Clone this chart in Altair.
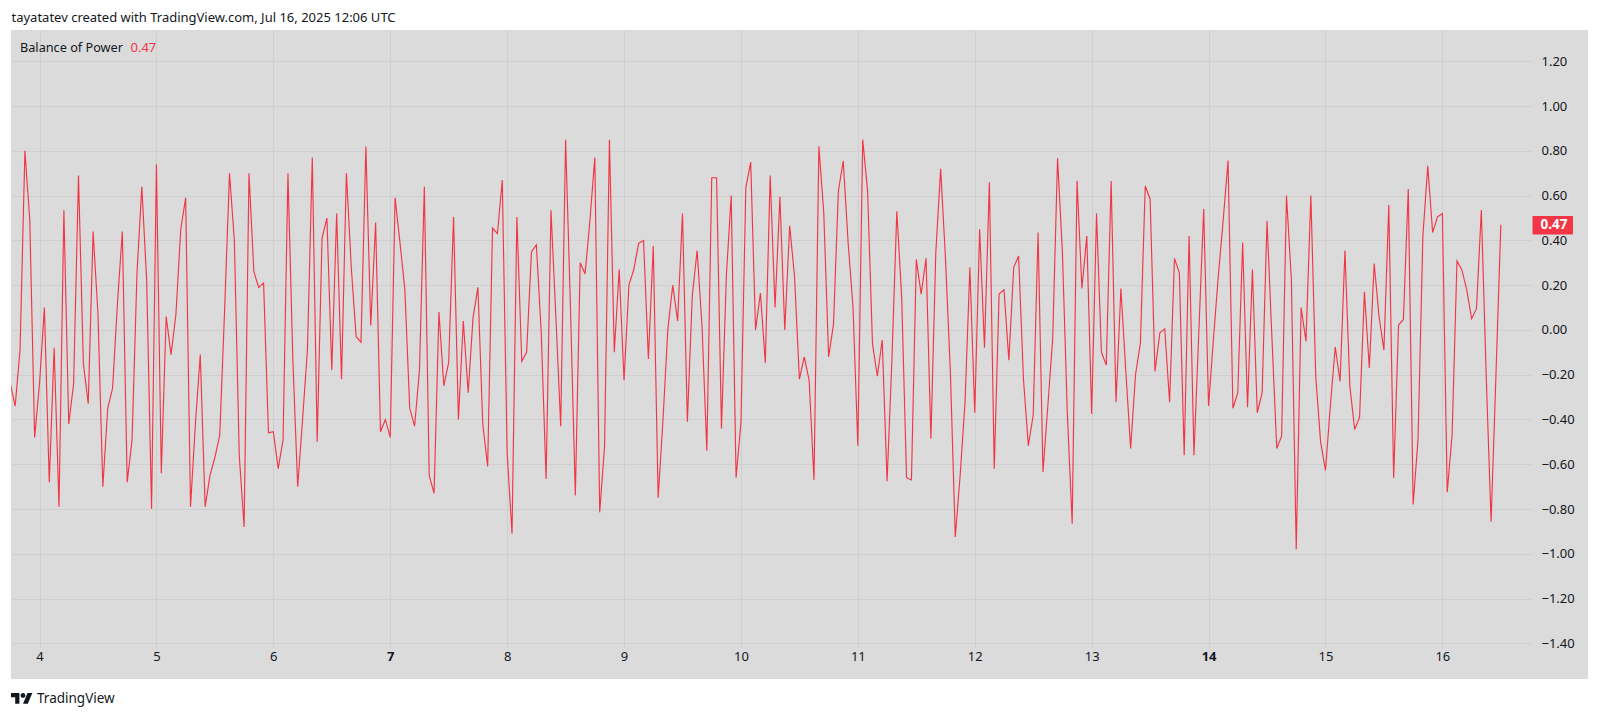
import altair as alt
import pandas as pd

FONT = "Noto Sans"
INK = "#131722"
RED = "#F23645"
PANEL = "#dbdbdb"
GRID = "#cfcfcf"

bop_a = [-0.24,-0.34,-0.09,0.80,0.49,-0.48,-0.24,0.10,-0.68,-0.08,-0.79,0.535,-0.42,-0.24,0.69,-0.15,-0.33,0.44,0.07,-0.70,
         -0.35,-0.26,0.12,0.44,-0.68,-0.49,0.25,0.64,0.22,-0.80,0.74,-0.64,0.06,-0.11,0.07,0.45,0.59,-0.79,-0.42,-0.11,
         -0.79,-0.65,-0.57,-0.47,0.09,0.70,0.40,-0.56,-0.88,0.70,0.26,0.19,0.21,-0.46,-0.455,-0.62,-0.49,0.70,-0.13,-0.70,
         -0.40,-0.09,0.77,-0.50,0.41,0.50,-0.18,0.52,-0.22,0.70,0.28,-0.03,-0.055,0.82,0.02,0.48,-0.455,-0.40]
bop_b = [-0.48,0.59,0.39,0.18,-0.35,-0.43,-0.18,0.64,-0.65,-0.73,0.08,-0.25,-0.145,0.505,-0.40,0.04,-0.28,0.055,0.19,-0.42,
         -0.61,0.455,0.43,0.67,-0.55,-0.91,0.505,-0.14,-0.10,0.35,0.38,-0.01,-0.666,0.535,0.06,-0.43,0.85,0.10,-0.74,0.30,
         0.25,0.49,0.77,-0.815,-0.52,0.85,-0.10,0.27,-0.225,0.20,0.27,0.387,0.40,-0.13,0.375,-0.75,-0.40,0.005,0.20,0.04,
         0.52,-0.41,0.15,0.355,0.02,-0.54,0.68,0.68,-0.44,0.24,0.60,-0.66,-0.415,0.635,0.75,0.0]
bop_c = [0.165,-0.147,0.69,0.10,0.595,0.0,0.465,0.24,-0.22,-0.12,-0.225,-0.67,0.82,0.525,-0.12,0.025,0.62,0.755,0.39,0.105,
         -0.517,0.85,0.62,-0.06,-0.207,-0.045,-0.676,-0.13,0.53,0.145,-0.66,-0.67,0.315,0.16,0.32,-0.485,0.345,0.72,0.315,-0.19,
         -0.925,-0.65,-0.325,0.28,-0.37,0.45,-0.08,0.66,-0.62,0.16,0.18,-0.135,0.28,0.33,-0.22,-0.517,-0.38,0.435,-0.635,-0.34,
         -0.04,0.767,0.345,-0.37,-0.866,0.665,0.185,0.42,-0.375,0.52,-0.10,-0.157,0.665,-0.323,0.185,-0.18,-0.53,-0.2,-0.06]
bop_d = [0.643,0.584,-0.185,-0.013,0.005,-0.323,0.32,0.255,-0.56,0.42,-0.56,-0.01,0.54,-0.34,-0.04,0.24,0.49,0.757,-0.35,-0.28,
         0.39,-0.345,0.27,-0.37,-0.28,0.487,-0.03,-0.53,-0.475,0.60,0.225,-0.98,0.10,-0.05,0.60,-0.207,-0.50,-0.628,-0.34,-0.076,
         -0.23,0.355,-0.25,-0.445,-0.39,0.17,-0.17,0.297,0.06,-0.09,0.558,-0.66,0.022,0.047,0.63,-0.78,-0.49,0.42,0.733,0.435,
         0.505,0.52,-0.725,-0.467,0.308,0.268,0.18,0.05,0.095,0.536,-0.207,-0.857,-0.2,0.47]
bop = bop_a + bop_b + bop_c + bop_d
hours = list(range(len(bop)))
day_ticks = [6 + 24 * k for k in range(13)]
level_ticks = [-1.4,-1.2,-1.0,-0.8,-0.6,-0.4,-0.2,0.0,0.2,0.4,0.6,0.8,1.0,1.2]

W, H = 1521, 618
x_scale = alt.Scale(domain=[0.144, 312.4], nice=False, zero=False)
y_scale = alt.Scale(domain=[-1.421, 1.34], nice=False, zero=False)
one = pd.DataFrame({"k": [0]})
series = pd.DataFrame({"hour": hours, "bop": bop})


def text(s, x, y, size=13, color=INK, weight="normal", align="left"):
    return alt.Chart(one).mark_text(text=s, font=FONT, fontSize=size, color=color, fontWeight=weight,
                                    align=align, baseline="middle").encode(x=alt.value(x), y=alt.value(y))


def strip(x, x2, y, y2, color=PANEL, **kw):
    return alt.Chart(one).mark_rect(color=color, **kw).encode(
        x=alt.value(x), x2=alt.value(x2), y=alt.value(y), y2=alt.value(y2))


right_strip = strip(W, 1577, 0, 649)
bottom_strip = strip(0, 1577, H, 649)
tag = strip(W + 0.5, W + 41, 186, 204.5, color=RED, cornerRadius=1)

# grid lives under the marks
grid_layer = alt.Chart(series).mark_line(opacity=0).encode(
    x=alt.X("hour:Q", scale=x_scale, title=None, axis=alt.Axis(
        orient="bottom", values=day_ticks, grid=True, gridColor=GRID, gridWidth=1, domain=False, ticks=False,
        labels=False)),
    y=alt.Y("bop:Q", scale=y_scale, title=None, axis=alt.Axis(
        orient="right", values=level_ticks, grid=True, gridColor=GRID, gridWidth=1, domain=False, ticks=False,
        labels=False)),
)

line = alt.Chart(series).mark_line(color=RED, strokeWidth=1.15, clip=True, interpolate="linear").encode(
    x=alt.X("hour:Q", scale=x_scale, axis=None),
    y=alt.Y("bop:Q", scale=y_scale, axis=None),
)

# tick labels live above the panel strips
label_layer = alt.Chart(series).mark_line(opacity=0).encode(
    x=alt.X("hour:Q", scale=x_scale, title=None, axis=alt.Axis(
        orient="bottom", values=day_ticks, grid=False, domain=False, ticks=False,
        labelExpr="'' + (4 + (datum.value - 6) / 24)", labelFont=FONT, labelFontSize=13, labelColor=INK,
        labelFontWeight={"condition": {"test": "datum.value == 78 || datum.value == 246", "value": "bold"},
                         "value": "normal"},
        labelPadding=8, labelBaseline="middle", labelFlush=False, labelOverlap=False, zindex=1)),
    y=alt.Y("bop:Q", scale=y_scale, title=None, axis=alt.Axis(
        orient="right", values=level_ticks, grid=False, domain=False, ticks=False,
        labelExpr="replace(format(datum.value, '.2f'), '-', '\u2212')", labelFont=FONT, labelFontSize=13,
        labelColor=INK, labelPadding=9, labelAlign="left", labelBaseline="middle", labelOverlap=False, zindex=1)),
)

logo = alt.Chart(one).mark_point(
    shape="M14 22H7V11H0V4h14v18zM28 22h-8l7.5-18h8L28 22zM24 8a4 4 0 1 1-8 0a4 4 0 1 1 8 0z",
    size=1.44, filled=True, color=INK, opacity=1, strokeWidth=0,
).encode(x=alt.value(0), y=alt.value(660.6))

chart = alt.layer(
    grid_layer, right_strip, bottom_strip, line, label_layer, tag,
    text("0.47", W + 8.5, 195.2, size=13.5, weight="bold", color="#ffffff"),
    text("Balance of Power", 9, 18, size=12.7),
    text("0.47", 119.5, 18, color=RED),
    text("tayatatev created with TradingView.com, Jul 16, 2025 12:06 UTC", 0.5, -12.5),
    logo,
    text("TradingView", 26, 669, size=13.5),
).resolve_axis(x="independent", y="independent").properties(
    width=W, height=H,
    padding={"left": 3, "top": 22, "right": 56, "bottom": 60},
    autosize=alt.AutoSizeParams(type="none"),
    background="#ffffff",
).configure_view(fill=PANEL, stroke=None)

chart.save("out.html", embed_options={"renderer": "svg", "actions": False})
